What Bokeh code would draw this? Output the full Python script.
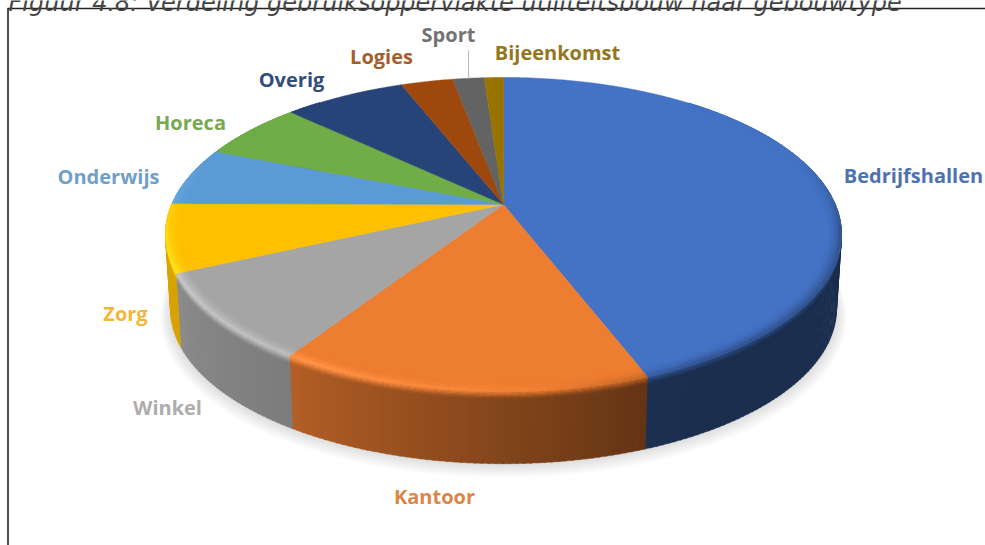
import numpy as np
from bokeh.plotting import figure
from bokeh.models import Range1d
from bokeh.core.properties import value
from bokeh.embed import file_html
from bokeh.resources import INLINE

# ---- data -------------------------------------------------------------
categories = ["Bedrijfshallen", "Kantoor", "Winkel", "Zorg", "Onderwijs",
              "Horeca", "Overig", "Logies", "Sport", "Bijeenkomst"]
shares = [44.2, 14.9, 9.0, 7.0, 6.0, 6.0, 7.0, 3.0, 1.8, 1.1]
title_text = "Figuur 4.8: Verdeling gebruiksoppervlakte utiliteitsbouw naar gebouwtype"

# ---- styles and layout ---------------------------------------------------
slice_colors = ["#4472C4", "#ED7D31", "#A5A5A5", "#FFC000", "#5B9BD5",
                "#70AD47", "#264478", "#9E480E", "#636363", "#997300"]
label_colors = ["#4F72AE", "#DC8547", "#ADADAD", "#F3B63A", "#709FCA",
                "#76A950", "#334D7A", "#A55E2B", "#727272", "#94761C"]
label_x = [913, 434, 167, 125, 108, 190, 291, 381, 448, 557]
label_y = [175, 496, 407, 313, 176, 122, 79, 56, 34, 52]
CX, CY = 503.0, 204.0       # apex of the pie on the page
A, B, K = 151.3, 331.8, 0.191  # perspective projection of the disc
BOTTOM_SCALE, BOTTOM_DY = 0.985, 75.0


def proj(theta_deg, r=1.0, s=1.0, dy=0.0):
    t = np.radians(theta_deg)
    u, v = r * np.sin(t), r * np.cos(t)
    w = 1 + K * v
    return CX + s * B * u / w, CY - s * A * v / w + dy


def rgb(c):
    return np.array([int(c[i:i + 2], 16) for i in (1, 3, 5)], dtype=float)


def hexc(a):
    a = np.clip(a, 0, 255).round().astype(int)
    return "#%02x%02x%02x" % tuple(a)


def side_factor(th):
    return np.interp(th, [60, 150, 159, 212, 245, 270, 320],
                     [.40, .40, .42, .75, .84, .86, .9])


def rim_gain(th):
    return np.interp(th, [70, 100, 150, 175, 212, 245, 270, 290],
                     [0, -.3, -.3, .02, .12, .16, .06, 0])


shares_arr = np.array(shares, dtype=float)
edges = np.concatenate([[0], np.cumsum(shares_arr)]) / shares_arr.sum() * 360

p = figure(width=985, height=545, output_backend="svg", toolbar_location=None,
           x_range=Range1d(0, 985), y_range=Range1d(545, 0),
           min_border=0, outline_line_color=None, margin=0)
p.axis.visible = False
p.grid.visible = False
p.background_fill_color = "white"
p.border_fill_color = "white"

# soft shadow below the disc
full = np.arange(0, 361, 2.0)
for f in np.linspace(0, 1, 9):
    x, y = proj(full, r=1 + .03 * f, s=BOTTOM_SCALE, dy=BOTTOM_DY + 7 * f)
    p.patch(x, y, fill_color="black", fill_alpha=.014, line_color=None)

# rim of the disc: strips shaded by angle
xs, ys, cols = [], [], []
bxs, bys, bcols = [], [], []
txs, tys, tcols = [], [], []
BEVEL = 6
RINGS = np.linspace(.955, 1, 7)
for i, c in enumerate(slice_colors):
    base = rgb(c)
    a0, a1 = edges[i], edges[i + 1]
    steps = np.linspace(a0, a1, max(2, int(np.ceil(a1 - a0)) + 1))
    for s0, s1 in zip(steps[:-1], steps[1:]):
        mid = (s0 + s1) / 2
        if not 40 <= mid <= 320:
            continue
        side = base * side_factor(mid)
        hl = base * (1 + rim_gain(mid)) + (255 - base) * max(rim_gain(mid), 0) * .9
        ang = np.array([s0, s1 + .25])
        # main rim strip
        x0, y0 = proj(ang)
        x1, y1 = proj(ang, s=BOTTOM_SCALE, dy=BOTTOM_DY)
        xs.append(np.r_[x0, x1[::-1]])
        ys.append(np.r_[y0, y1[::-1]])
        cols.append(hexc(side))
        # soft transition from highlight to rim
        for k in range(BEVEL):
            f0, f1 = k / BEVEL, (k + 1) / BEVEL
            g = 1 - BOTTOM_SCALE
            xa, ya = proj(ang, s=1 - g * .1 * f0, dy=BOTTOM_DY * .1 * f0)
            xb, yb = proj(ang, s=1 - g * .1 * f1, dy=BOTTOM_DY * .1 * f1)
            bxs.append(np.r_[xa, xb[::-1]])
            bys.append(np.r_[ya, yb[::-1]])
            bcols.append(hexc(hl + (side - hl) * (f0 + f1) / 2))
        # soft transition from the flat top to the highlight
        for k in range(len(RINGS) - 1):
            f = (k + .5) / (len(RINGS) - 1)
            xa, ya = proj(ang, r=RINGS[k])
            xb, yb = proj(ang, r=RINGS[k + 1])
            txs.append(np.r_[xa, xb[::-1]])
            tys.append(np.r_[ya, yb[::-1]])
            tcols.append(hexc(base + (hl - base) * f ** 2))

p.patches(xs, ys, fill_color=cols, line_color=cols, line_width=.4)
p.patches(bxs, bys, fill_color=bcols, line_color=bcols, line_width=.3)

# flat top of the disc
for i, c in enumerate(slice_colors):
    ang = np.linspace(edges[i], edges[i + 1], max(3, int(edges[i + 1] - edges[i]) * 2))
    x, y = proj(ang)
    p.patch(np.r_[CX, x], np.r_[CY, y], fill_color=c, line_color=c, line_width=.5)
p.patches(txs, tys, fill_color=tcols, line_color=tcols, line_width=.3)

# leader line of the small slice
mid_sport = (edges[8] + edges[9]) / 2
lx, ly = proj(np.array([mid_sport]))
p.segment(lx, ly - 28, lx, ly, line_color="#b9b9b9", line_width=1)

# labels
p.text(label_x, label_y, text=categories, text_color=label_colors,
       text_font=value("Open Sans"), text_font_style="bold", text_font_size="20px",
       text_align="center", text_baseline="middle")

# frame and clipped caption of the source page
p.segment([7, 7.5], [8, 8], [985, 7.5], [8, 545], line_color="#222222", line_width=1.6)
p.text([8], [2], text=[title_text], text_color="#444444",
       text_font=value("DejaVu Sans"), text_font_style="italic", text_font_size="24px",
       text_align="left", text_baseline="alphabetic")

open("out.html", "w").write(file_html(p, INLINE))
